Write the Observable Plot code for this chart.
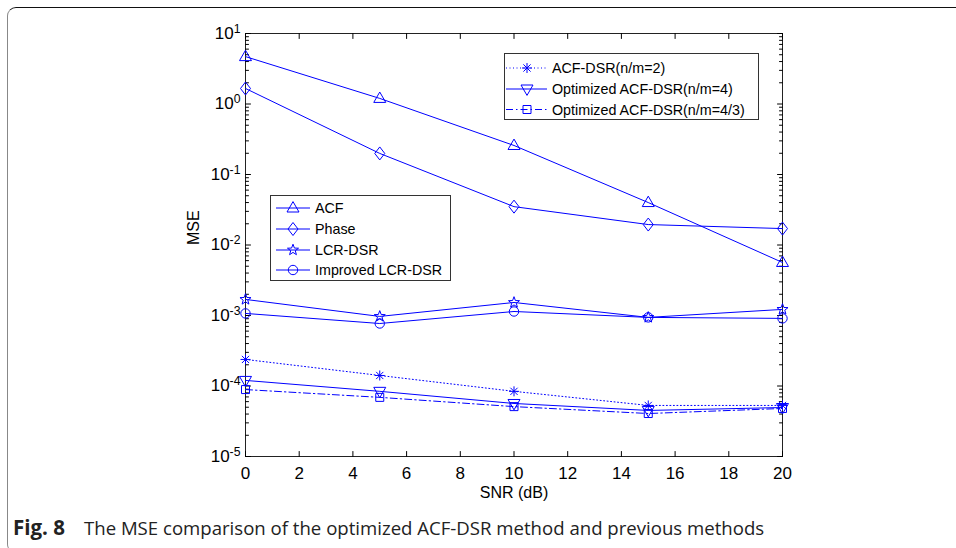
<!DOCTYPE html>
<html><head><meta charset="utf-8">
<script src="https://cdn.jsdelivr.net/npm/d3@7"></script>
<script src="https://cdn.jsdelivr.net/npm/@observablehq/plot@0.6"></script>
<style>
html,body{margin:0;padding:0;background:#fff;width:956px;height:548px;overflow:hidden;}
#wrap{position:relative;width:956px;height:548px;}
#border{position:absolute;left:7px;top:7px;width:1000px;height:546px;border-top:1.5px solid #111;border-left:1px solid #888;border-top-left-radius:9px;border-bottom-left-radius:9px;box-sizing:border-box;}
#chart{position:absolute;left:0;top:0;}
#caption{position:absolute;left:13px;top:513px;font-family:"Open Sans","Noto Sans",sans-serif;font-size:18.6px;color:#222;white-space:nowrap;}
#caption b{font-weight:700;font-size:20.5px;margin-right:19px;}
</style></head>
<body><div id="wrap"><div id="border"></div><div id="chart"></div>
<div id="caption"><b>Fig. 8</b>The MSE comparison of the optimized ACF-DSR method and previous methods</div></div>
<script>
// ---- data ----
const snr = [0, 5, 10, 15, 20];
const acf        = [4.7, 1.2, 0.258, 0.040, 0.00565];
const phase      = [1.66, 0.199, 0.035, 0.0195, 0.0171];
const lcrDsr     = [0.00169, 0.00097, 0.00153, 0.00094, 0.00122];
const impLcrDsr  = [0.00107, 0.00077, 0.00114, 0.00094, 0.00091];
const acfDsr2    = [0.000238, 0.000141, 0.000084, 0.000053, 0.000053];
const optAcf4    = [0.000120, 0.000084, 0.0000565, 0.000045, 0.0000495];
const optAcf43   = [0.000089, 0.000069, 0.000051, 0.0000407, 0.000048];
const seriesNames = ["ACF", "Phase", "LCR-DSR", "Improved LCR-DSR",
  "ACF-DSR(n/m=2)", "Optimized ACF-DSR(n/m=4)", "Optimized ACF-DSR(n/m=4/3)"];
const seriesValues = [acf, phase, lcrDsr, impLcrDsr, acfDsr2, optAcf4, optAcf43];
const xTicks = [0, 2, 4, 6, 8, 10, 12, 14, 16, 18, 20];
const yTicks = [1e-5, 1e-4, 1e-3, 1e-2, 1e-1, 1, 10];
const legendA = ["ACF", "Phase", "LCR-DSR", "Improved LCR-DSR"];
const legendB = ["ACF-DSR(n/m=2)", "Optimized ACF-DSR(n/m=4)", "Optimized ACF-DSR(n/m=4/3)"];

// ---- styles ----
const blue = "#0000ff";
const sym = {
  triUp: {draw(c){ c.moveTo(0,-6.4); c.lineTo(6,4); c.lineTo(-6,4); c.closePath(); }},
  triDown: {draw(c){ c.moveTo(0,6.4); c.lineTo(6,-4); c.lineTo(-6,-4); c.closePath(); }},
  diamond: {draw(c){ c.moveTo(0,-6.5); c.lineTo(5,0); c.lineTo(0,6.5); c.lineTo(-5,0); c.closePath(); }},
  circle: {draw(c){ c.moveTo(4.7,0); c.arc(0,0,4.7,0,2*Math.PI); c.closePath(); }},
  star: {draw(c){ const R=5.8, r=2.4; for(let i=0;i<10;i++){ const a=-Math.PI/2+i*Math.PI/5, rr=i%2?r:R; const x=rr*Math.cos(a), y=rr*Math.sin(a); if(i===0) c.moveTo(x,y); else c.lineTo(x,y);} c.closePath(); }},
  asterisk: {draw(c){ const L=5, d=3.6; c.moveTo(-L,0); c.lineTo(L,0); c.moveTo(0,-L); c.lineTo(0,L); c.moveTo(-d,-d); c.lineTo(d,d); c.moveTo(-d,d); c.lineTo(d,-d); }},
  square: {draw(c){ c.moveTo(-4,-4); c.lineTo(4,-4); c.lineTo(4,4); c.lineTo(-4,4); c.closePath(); }}
};
const styleOf = {
  "ACF": {symbol: sym.triUp, dash: null},
  "Phase": {symbol: sym.diamond, dash: null},
  "LCR-DSR": {symbol: sym.star, dash: null},
  "Improved LCR-DSR": {symbol: sym.circle, dash: null},
  "ACF-DSR(n/m=2)": {symbol: sym.asterisk, dash: "1,2.5"},
  "Optimized ACF-DSR(n/m=4)": {symbol: sym.triDown, dash: null},
  "Optimized ACF-DSR(n/m=4/3)": {symbol: sym.square, dash: "7,3,1.5,3"}
};

const series = seriesNames.map((name, i) => ({name, rows: snr.map((x, j) => ({x, y: seriesValues[i][j]}))}));
const minor = [];
for (let k = -5; k < 1; k++) for (let m = 2; m <= 9; m++) minor.push(m * Math.pow(10, k));

const tickShape = {draw(c, l){ c.moveTo(0,0); c.lineTo(0,-l); }};
const tk = (data, opts) => Plot.vector(data, {anchor: "start", shape: tickShape, stroke: "#000", strokeWidth: 1, ...opts});

const marks = [
  Plot.frame({stroke: "#222", strokeWidth: 1}),
  tk(xTicks, {x: d => d, y: 1e-5, rotate: 0, length: 5}),
  tk(xTicks, {x: d => d, y: 10, rotate: 180, length: 5}),
  tk(yTicks, {x: 0, y: d => d, rotate: 90, length: 5}),
  tk(yTicks, {x: 20, y: d => d, rotate: 270, length: 5}),
  tk(minor, {x: 0, y: d => d, rotate: 90, length: 3}),
  tk(minor, {x: 20, y: d => d, rotate: 270, length: 3}),
  Plot.axisX(xTicks, {tickSize: 0, tickPadding: 10, fontSize: 17, label: null}),
  Plot.axisY(yTicks, {tickSize: 0, tickPadding: 5, fontSize: 17, label: null,
    tickFormat: d => "10^" + Math.round(Math.log10(d))}),
  Plot.text(["SNR (dB)"], {frameAnchor: "bottom", dy: 41, fontSize: 16, fill: "#000"}),
  Plot.text(["MSE"], {frameAnchor: "left", dx: -52, rotate: -90, fontSize: 16, fill: "#000"})
];
for (const s of series) {
  const st = styleOf[s.name];
  marks.push(Plot.line(s.rows, {x: "x", y: "y", stroke: blue, strokeWidth: 1, strokeDasharray: st.dash}));
}
for (const s of series) {
  const st = styleOf[s.name];
  marks.push(Plot.dot(s.rows, {x: "x", y: "y", symbol: st.symbol, r: 5, fill: "none", stroke: blue, strokeWidth: 1}));
}

const chart = Plot.plot({
  width: 956, height: 510,
  marginLeft: 245, marginRight: 174, marginTop: 33, marginBottom: 54,
  style: {fontFamily: "'Liberation Sans', Arial, sans-serif", color: "#000", background: "transparent", overflow: "visible"},
  x: {domain: [0, 20], axis: null},
  y: {type: "log", domain: [1e-5, 10], axis: null},
  marks
});
document.getElementById("chart").appendChild(chart);

// superscript exponents in y tick labels
const svg = d3.select(chart.tagName.toLowerCase() === "svg" ? chart : chart.querySelector("svg"));
svg.selectAll('g[aria-label="y-axis tick label"] text').each(function() {
  const t = d3.select(this);
  const parts = t.text().split("^");
  t.text("");
  t.append("tspan").text(parts[0]);
  t.append("tspan").attr("dy", "-0.5em").attr("font-size", "0.72em").text(parts[1]);
});

// legends
function legend(names, box, rows, lineX, markX, textX) {
  const g = svg.append("g").attr("font-family", "'Liberation Sans', Arial, sans-serif").attr("font-size", 14.3)
    .attr("text-anchor", "start");
  g.append("rect").attr("x", box[0]).attr("y", box[1]).attr("width", box[2]-box[0]).attr("height", box[3]-box[1])
    .attr("fill", "#fff").attr("stroke", "#333").attr("stroke-width", 1);
  names.forEach((name, i) => {
    const st = styleOf[name], y = rows[i];
    g.append("line").attr("x1", lineX[0]).attr("x2", lineX[1]).attr("y1", y).attr("y2", y)
      .attr("stroke", blue).attr("stroke-width", 1).attr("stroke-dasharray", st.dash);
    const p = d3.path(); st.symbol.draw(p, 0);
    g.append("path").attr("d", p.toString()).attr("transform", `translate(${markX},${y})`)
      .attr("fill", "none").attr("stroke", blue).attr("stroke-width", 1);
    g.append("text").attr("x", textX).attr("y", y).attr("dy", "0.35em").attr("fill", "#000")
      .attr("text-anchor", "start").text(name);
  });
}
legend(legendB, [504.5, 53.5, 758.5, 119.5], [68, 89, 109.5], [506, 547], 527, 552);
legend(legendA, [270.5, 195.5, 450.5, 280.5], [208, 229, 250, 270], [276, 310], 293, 315);
</script>
</body></html>
